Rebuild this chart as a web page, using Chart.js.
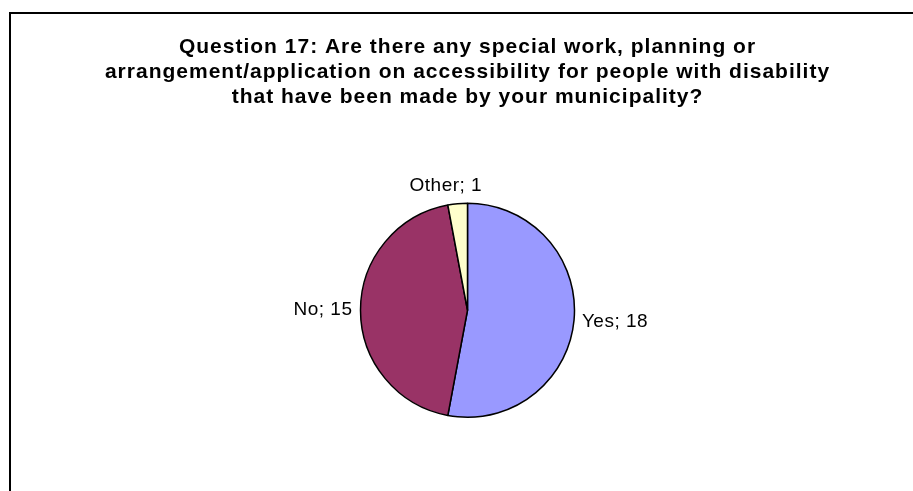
<!DOCTYPE html>
<html>
<head>
<meta charset="utf-8">
<title>Question 17</title>
<script src="https://cdn.jsdelivr.net/npm/chart.js@4/dist/chart.umd.min.js"></script>
<style>
  html, body { margin: 0; padding: 0; background: #fff; }
  #q17 { display: block; }
</style>
</head>
<body>
<canvas id="q17" width="913" height="491"></canvas>
<script>
// answers and counts
var answers = ['Yes', 'No', 'Other'];
var counts = [18, 15, 1];
var sliceColors = ['#9999FF', '#993366', '#FFFFCC'];
var titleLines = [
  'Question 17: Are there any special work, planning or',
  'arrangement/application on accessibility for people with disability',
  'that have been made by your municipality?'
];

var FONT = '"Liberation Sans", Arial, sans-serif';

// frame lines (left and top) plus wider letter spacing for the title
var framePlugin = {
  id: 'frame',
  beforeDraw: function (chart) {
    var ctx = chart.ctx;
    ctx.save();
    ctx.fillStyle = '#fff';
    ctx.fillRect(0, 0, chart.width, chart.height);
    ctx.fillStyle = '#000';
    ctx.fillRect(9, 12, 2, chart.height - 12);
    ctx.fillRect(9, 12, chart.width - 9, 2);
    ctx.restore();
    ctx.letterSpacing = '1px';
  }
};

// "Answer; n" labels just outside each slice
var sliceLabels = {
  id: 'sliceLabels',
  afterDatasetsDraw: function (chart) {
    var ctx = chart.ctx;
    var meta = chart.getDatasetMeta(0);
    ctx.save();
    ctx.letterSpacing = '0.5px';
    ctx.font = '19px ' + FONT;
    ctx.fillStyle = '#000';
    ctx.textAlign = 'center';
    ctx.textBaseline = 'middle';
    meta.data.forEach(function (arc, i) {
      var p = arc.getProps(['x', 'y', 'startAngle', 'endAngle', 'outerRadius'], true);
      var mid = (p.startAngle + p.endAngle) / 2;
      var dx = Math.cos(mid), dy = Math.sin(mid);
      var r = p.outerRadius + 8;
      var text = chart.data.labels[i] + '; ' + chart.data.datasets[0].data[i];
      var w = ctx.measureText(text).width;
      // push the box sideways, a bit more for labels near the top/bottom
      var sx = (dx < 0 ? -1 : 1) * Math.sqrt(Math.abs(dx));
      var cx = p.x + dx * r + sx * w / 2;
      var cy = p.y + dy * r + dy * 10;
      ctx.fillText(text, cx, cy);
    });
    ctx.restore();
  }
};

new Chart(document.getElementById('q17').getContext('2d'), {
  type: 'pie',
  data: {
    labels: answers,
    datasets: [{
      data: counts,
      backgroundColor: sliceColors,
      borderColor: '#000',
      borderWidth: 1.5
    }]
  },
  options: {
    responsive: false,
    animation: false,
    events: [],
    layout: { padding: { left: 22, right: 0, top: 0, bottom: 73 } },
    plugins: {
      legend: { display: false },
      tooltip: { enabled: false },
      title: {
        display: true,
        text: titleLines,
        color: '#000',
        font: { family: FONT, size: 21, weight: 'bold', lineHeight: 25 / 21 },
        padding: { top: 35, bottom: 92.5 }
      }
    }
  },
  plugins: [framePlugin, sliceLabels]
});
</script>
</body>
</html>
